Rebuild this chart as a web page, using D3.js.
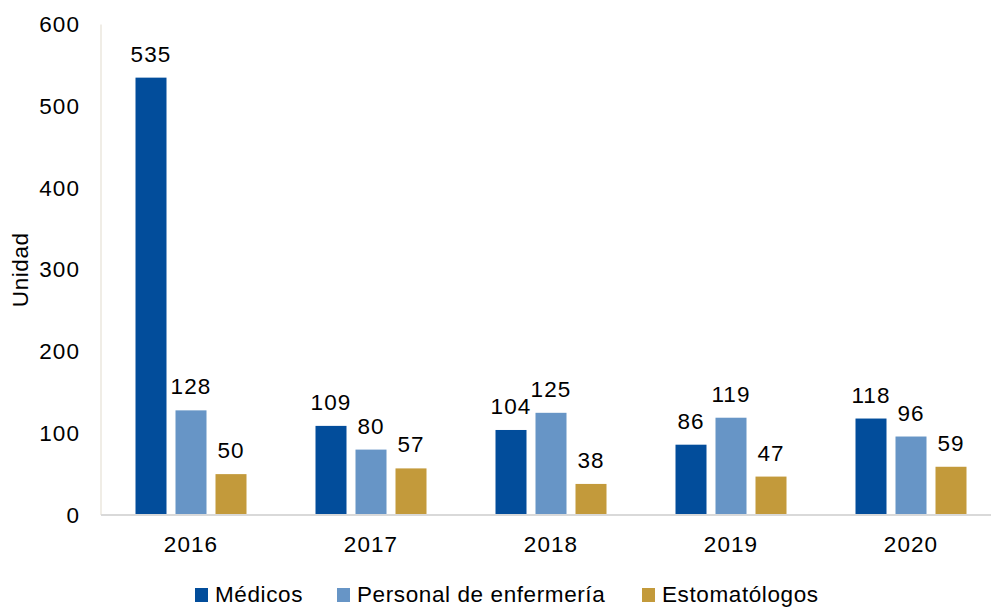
<!DOCTYPE html>
<html>
<head>
<meta charset="utf-8">
<script src="https://cdn.jsdelivr.net/npm/d3@7"></script>
<style>
  html, body { margin: 0; padding: 0; background: #fff; }
  svg text { font-family: "Liberation Sans", Arial, sans-serif; fill: #000; }
</style>
</head>
<body>
<svg id="chart" width="991" height="609"></svg>
<script>
const years = ["2016", "2017", "2018", "2019", "2020"];
const seriesNames = ["Médicos", "Personal de enfermería", "Estomatólogos"];
const medicos = [535, 109, 104, 86, 118];
const enfermeria = [128, 80, 125, 119, 96];
const estomatologos = [50, 57, 38, 47, 59];
const yTicks = [0, 100, 200, 300, 400, 500, 600];
const colors = ["#024D9B", "#6795C6", "#C39A3B"];
const yTitle = "Unidad";

(function () {
const seriesValues = [medicos, enfermeria, estomatologos];
const data = years.map((yr, i) => ({ year: yr, values: seriesNames.map((s, j) => ({ key: s, idx: j, value: seriesValues[j][i] })) }));

const svg = d3.select("#chart");
const mLeft = 101, mRight = 1001, mTop = 24.5, mBottom = 515;
const fs = "22.5px", lsNum = "1.1px", lsTxt = "0.6px";

const x0 = d3.scaleBand().domain(years).range([mLeft, mRight]).padding(0);
const x1 = d3.scaleBand().domain(seriesNames).range([0, x0.bandwidth()]).paddingInner(0.225).paddingOuter(0.8625);
const y = d3.scaleLinear().domain([0, 600]).range([mBottom, mTop]);

// y axis labels
const yAxis = d3.axisLeft(y).tickValues(yTicks).tickSize(0).tickPadding(21);
const gy = svg.append("g").attr("transform", `translate(${mLeft},0)`).call(yAxis);
gy.attr("font-family", null).attr("font-size", null);
gy.select(".domain").remove();
gy.selectAll("text").style("font-size", fs).style("letter-spacing", lsNum);

// left axis line
svg.append("line").attr("x1", mLeft).attr("x2", mLeft).attr("y1", y(600)).attr("y2", mBottom)
  .attr("stroke", "#ebe7de").attr("stroke-width", 1.5);

// bars
const groups = svg.append("g").selectAll("g").data(data).join("g")
  .attr("transform", d => `translate(${x0(d.year)},0)`);
groups.selectAll("rect").data(d => d.values).join("rect")
  .attr("x", d => x1(d.key))
  .attr("width", x1.bandwidth())
  .attr("y", d => y(d.value))
  .attr("height", d => mBottom - y(d.value))
  .attr("fill", d => colors[d.idx]);
groups.selectAll("text.val").data(d => d.values).join("text")
  .attr("class", "val")
  .attr("x", d => x1(d.key) + x1.bandwidth() / 2)
  .attr("y", d => y(d.value) - 16)
  .attr("text-anchor", "middle")
  .style("font-size", fs).style("letter-spacing", lsNum)
  .text(d => d.value);

// baseline
svg.append("line").attr("x1", mLeft).attr("x2", 991).attr("y1", mBottom).attr("y2", mBottom)
  .attr("stroke", "#d9d9d9").attr("stroke-width", 2);

// x axis labels
const xAxis = d3.axisBottom(x0).tickSize(0).tickPadding(0);
const gx = svg.append("g").attr("transform", `translate(0,${mBottom})`).call(xAxis);
gx.attr("font-family", null).attr("font-size", null);
gx.select(".domain").remove();
gx.selectAll("text").attr("dy", null).attr("y", 36.7)
  .style("font-size", fs).style("letter-spacing", lsNum);

// y title
svg.append("text").attr("transform", `translate(28,${(mTop + mBottom) / 2}) rotate(-90)`)
  .attr("text-anchor", "middle")
  .style("font-size", fs).style("letter-spacing", lsTxt)
  .text(yTitle);

// legend
const legendX = [195, 337, 642];
const lg = svg.append("g").selectAll("g").data(seriesNames).join("g")
  .attr("transform", (d, i) => `translate(${legendX[i]},588)`);
lg.append("rect").attr("width", 13).attr("height", 14).attr("fill", (d, i) => colors[i]);
lg.append("text").attr("x", 20).attr("y", 14)
  .style("font-size", fs).style("letter-spacing", lsTxt)
  .text(d => d);
})();
</script>
</body>
</html>
